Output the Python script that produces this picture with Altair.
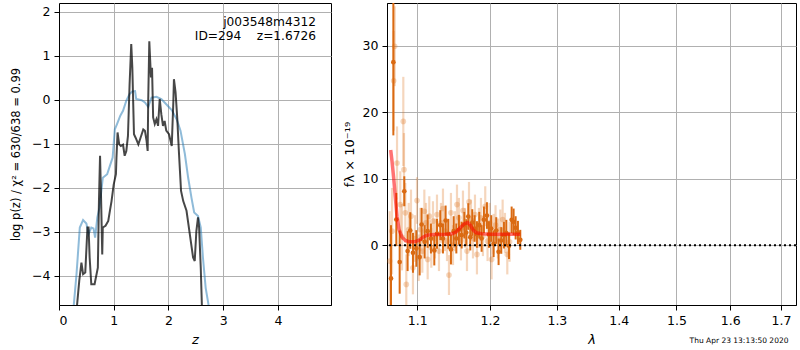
import altair as alt
import pandas as pd

# ---------------- left panel: log p(z) ----------------
z_blue = [0.25, 0.27, 0.32, 0.38, 0.44, 0.50, 0.54, 0.59, 0.63, 0.66, 0.70, 0.74, 0.80, 0.84,
          0.88, 0.93, 0.98, 1.02, 1.06, 1.12, 1.17, 1.23, 1.29, 1.34, 1.39, 1.41, 1.51, 1.57,
          1.63, 1.69, 1.78, 1.87, 1.96, 2.06, 2.15, 2.22, 2.30, 2.36, 2.42, 2.47, 2.54, 2.59,
          2.63, 2.68, 2.73, 2.78]
logp_blue = [-5.6, -4.66, -3.96, -2.90, -2.73, -2.81, -3.05, -2.90, -2.92, -3.13, -2.67, -2.45,
             -1.77, -1.73, -1.69, -1.50, -1.31, -0.67, -0.55, -0.36, -0.25, -0.02, 0.13, 0.19,
             0.20, 0.02, -0.01, -0.06, -0.16, 0.05, 0.07, 0.02, -0.10, -0.23, -0.44, -0.70,
             -1.23, -1.77, -2.22, -2.56, -2.64, -2.90, -3.58, -4.27, -4.64, -5.6]

z_dark = [0.32, 0.33, 0.37, 0.41, 0.44, 0.48, 0.52, 0.54, 0.56, 0.59, 0.65, 0.71, 0.73, 0.75,
          0.77, 0.79, 0.80, 0.85, 0.90, 0.93, 0.96, 1.00, 1.04, 1.05, 1.07, 1.10, 1.13, 1.17,
          1.20, 1.23, 1.26, 1.29, 1.32, 1.34, 1.37, 1.40, 1.45, 1.49, 1.54, 1.57, 1.60, 1.62,
          1.63, 1.65, 1.68, 1.70, 1.72, 1.75, 1.78, 1.81, 1.84, 1.87, 1.90, 1.93, 1.96, 2.01,
          2.06, 2.09, 2.10, 2.13, 2.16, 2.19, 2.23, 2.27, 2.33, 2.39, 2.45, 2.48, 2.51, 2.54,
          2.56, 2.59, 2.61, 2.63]
logp_dark = [-5.6, -4.66, -4.11, -3.70, -3.96, -3.92, -2.90, -2.90, -3.58, -4.19, -4.19, -3.81,
             -2.30, -1.27, -2.30, -3.51, -2.90, -2.86, -2.75, -2.52, -2.30, -1.92, -1.69, -1.31,
             -0.74, -1.01, -1.05, -1.02, -1.27, -1.16, -0.82, 0.36, 1.27, 0.73, -0.78, -0.86,
             -1.01, -0.86, -0.67, -0.70, -0.93, -1.16, -0.02, 1.33, 0.51, 0.73, -0.40, -0.55,
             -0.44, -0.59, 0.02, -0.33, -0.59, -0.48, -0.70, -0.78, -1.05, -0.02, 0.47, 0.17,
             -0.40, -1.16, -2.07, -2.30, -2.52, -3.05, -3.58, -3.66, -2.98, -2.67, -2.90, -3.81,
             -4.64, -5.6]

label_lines = ["j003548m4312", "ID=294\u00a0\u00a0\u00a0\u00a0z=1.6726"]
ytitle_left = "log p(z) / χ² = 630/638 = 0.99"

# ---------------- right panel: spectrum ----------------
dark_wave = [1.0659, 1.0689, 1.0727, 1.0770, 1.0830, 1.0873, 1.0908, 1.0943, 1.0987, 1.1031,
             1.1057, 1.1097, 1.1137, 1.1181, 1.1226, 1.1262, 1.1307, 1.1343, 1.1379, 1.1416,
             1.1452, 1.1489, 1.1526, 1.1562, 1.1600, 1.1637, 1.1664, 1.1692, 1.1720, 1.1748,
             1.1781, 1.1814, 1.1847, 1.1880, 1.1913, 1.1956, 1.1985, 1.2018, 1.2052, 1.2090,
             1.2124, 1.2163, 1.2202, 1.2237, 1.2276, 1.2315, 1.2344, 1.2374, 1.2408, 1.2443]
dark_flux = [-5.0, 27.5, 3.85, -2.55, 8.1, -0.9, 2.2, -1.15, -0.5, -1.8,
             3.1, 0.5, 2.1, 1.0, -0.8, 1.7, 3.0, 1.0, 3.7, 1.7,
             -0.65, 2.1, 1.0, 2.3, 1.5, 3.0, 1.9, 4.3, 1.2, 3.4,
             2.5, 1.6, 3.0, 1.0, 3.8, 4.45, 1.6, 2.5, 0.2, 2.2,
             -1.0, 0.7, 1.5, 1.8, -0.1, 3.8, 3.5, 2.6, 1.9, 0.8]
dark_err = [8.0, 11.0, 4.0, 4.75, 2.25, 3.0, 2.75, 3.0, 2.75, 2.75,
            2.5, 2.5, 2.5, 2.25, 2.25, 2.25, 2.25, 2.25, 2.25, 2.25,
            2.25, 2.25, 2.25, 2.25, 2.0, 2.0, 2.0, 2.0, 2.0, 2.0,
            2.0, 2.0, 2.0, 2.0, 2.0, 2.0, 2.0, 2.0, 2.0, 2.0,
            2.0, 2.0, 2.0, 2.0, 2.0, 2.0, 2.0, 1.75, 1.75, 1.5]

light_wave = [1.0642, 1.0672, 1.0693, 1.0706, 1.0736, 1.0778, 1.0800, 1.0817, 1.0826, 1.0843,
              1.0856, 1.0887, 1.0917, 1.0943, 1.0969, 1.0996, 1.1018, 1.1040, 1.1066, 1.1093,
              1.1115, 1.1137, 1.1159, 1.1186, 1.1208, 1.1235, 1.1262, 1.1289, 1.1316, 1.1343,
              1.1370, 1.1398, 1.1425, 1.1452, 1.1480, 1.1507, 1.1535, 1.1562, 1.1590, 1.1618,
              1.1646, 1.1674, 1.1702, 1.1730, 1.1758, 1.1786, 1.1814, 1.1842, 1.1871, 1.1899,
              1.1932, 1.1965, 1.1994, 1.2023, 1.2052, 1.2080, 1.2114, 1.2149, 1.2183, 1.2217,
              1.2251, 1.2285]
light_flux = [-2.4, 2.1, 24.7, 29.9, 12.35, 6.1, 1.2, 18.6, 11.35, 4.85,
              -5.9, 2.35, 4.35, -3.4, 1.0, 6.7, -1.9, 2.35, -0.9, 5.1,
              3.35, -2.15, 4.35, -0.4, 3.6, 1.0, 4.6, -0.9, 3.35, 5.5,
              2.1, 0.6, -4.5, 4.85, 0.0, 2.1, 6.1, 4.1, 0.7, 5.2,
              2.6, -0.9, 6.5, 3.85, 1.0, 4.6, -1.4, 2.6, 4.1, 1.35,
              5.85, 0.6, 3.35, -2.15, 1.7, 3.0, 1.0, 2.35, 3.85, 1.85,
              -1.4, 0.5]
light_err = [7.5, 6.5, 7.5, 6.0, 5.5, 5.0, 5.0, 6.7, 5.5, 4.5,
             4.5, 4.0, 4.0, 4.0, 3.5, 3.5, 3.5, 3.25, 3.25, 3.25,
             3.0, 3.0, 3.0, 3.0, 3.0, 3.0, 3.0, 3.0, 3.0, 3.0,
             3.0, 3.0, 3.0, 3.0, 3.0, 3.0, 3.0, 3.0, 3.0, 3.0,
             3.0, 3.0, 3.0, 3.0, 3.0, 3.0, 3.0, 3.0, 3.0, 3.0,
             3.0, 3.0, 3.0, 3.0, 3.0, 3.0, 3.0, 3.0, 3.0, 3.0,
             3.0, 3.0]

model_wave = [1.0655, 1.0672, 1.0693, 1.0715, 1.0736, 1.0762, 1.0800, 1.0843, 1.0900, 1.0961,
              1.1018, 1.1075, 1.1128, 1.1217, 1.1352, 1.1466, 1.1526, 1.1581, 1.1637, 1.1683,
              1.1720, 1.1758, 1.1805, 1.1885, 1.2004, 1.2149, 1.2295, 1.2443]
model_flux = [14.3, 12.6, 10.1, 7.1, 4.35, 2.35, 1.2, 0.7, 0.5, 0.5,
              0.7, 1.2, 1.5, 1.6, 1.6, 1.7, 2.0, 2.6, 3.2, 3.4,
              3.0, 2.3, 1.85, 1.7, 1.65, 1.65, 1.65, 1.65]

lam_ticks = [1.1, 1.2, 1.3, 1.4, 1.5, 1.6, 1.7]
flux_ticks = [0, 10, 20, 30]
timestamp = "Thu Apr 23 13:13:50 2020"

ORANGE = "#da6a12"
FONT = "DejaVu Sans"

# ---------------- build left ----------------
xz = alt.X("z:Q", scale=alt.Scale(domain=[0, 4.97], nice=False, zero=False),
           axis=alt.Axis(values=[0, 1, 2, 3, 4], title="z", titleFontStyle="italic", format="d",
                         titlePadding=7))
ylp = alt.Y("logp:Q", scale=alt.Scale(domain=[-4.66, 2.2], nice=False, zero=False),
            axis=alt.Axis(values=[-4, -3, -2, -1, 0, 1, 2], title=ytitle_left, format="d",
                          titlePadding=10, titleFontSize=11.5))

blue = alt.Chart(pd.DataFrame({"z": z_blue, "logp": logp_blue})).mark_line(
    color="#1f77b4", opacity=0.5, strokeWidth=2, clip=True).encode(x=xz, y=ylp)
dark = alt.Chart(pd.DataFrame({"z": z_dark, "logp": logp_dark})).mark_line(
    color="black", opacity=0.72, strokeWidth=2, clip=True).encode(x=xz, y=ylp)

t1 = alt.Chart(pd.DataFrame({"t": [label_lines[0]]})).mark_text(
    align="right", baseline="alphabetic", fontSize=12.2, font=FONT, color="black").encode(
    text="t:N", x=alt.value(257), y=alt.value(23))
t2 = alt.Chart(pd.DataFrame({"t": [label_lines[1]]})).mark_text(
    align="right", baseline="alphabetic", fontSize=12.2, font=FONT, color="black").encode(
    text="t:N", x=alt.value(257), y=alt.value(37))

left = alt.layer(blue, dark, t1, t2).properties(width=272, height=302)

# ---------------- build right ----------------
xs = alt.Scale(type="log", domain=[1.0608, 1.7309], nice=False)
ys = alt.Scale(domain=[-9.0, 36.4], nice=False, zero=False)
flux_axis = alt.Axis(values=flux_ticks, format="d", title="fλ × 10⁻¹⁹", titlePadding=6)
xl = alt.X("wave:Q", scale=xs, axis=alt.Axis(values=lam_ticks, format=".1f", title="λ",
                                             titleFontStyle="italic", titlePadding=7))
yl = alt.Y("flux:Q", scale=ys, axis=flux_axis)

light_df = pd.DataFrame({"wave": light_wave, "flux": light_flux, "err": light_err})
dark_df = pd.DataFrame({"wave": dark_wave, "flux": dark_flux, "err": dark_err})


def errbars(df, opacity, width):
    return alt.Chart(df).transform_calculate(
        lo="datum.flux - datum.err", hi="datum.flux + datum.err"
    ).mark_rule(color=ORANGE, opacity=opacity, strokeWidth=width, clip=True).encode(
        x=xl, y=alt.Y("lo:Q", scale=ys, axis=flux_axis), y2="hi:Q")


light_bars = errbars(light_df, 0.28, 2.2)
light_pts = alt.Chart(light_df).mark_circle(color=ORANGE, opacity=0.28, size=32, clip=True).encode(
    x=xl, y=yl)
dark_bars = errbars(dark_df, 1.0, 2)
dark_pts = alt.Chart(dark_df).mark_circle(color=ORANGE, opacity=1.0, size=22, clip=True).encode(
    x=xl, y=yl)
model = alt.Chart(pd.DataFrame({"wave": model_wave, "flux": model_flux})).mark_line(
    color="red", opacity=0.55, strokeWidth=3.5, clip=True).encode(x=xl, y=yl)
zero = alt.Chart(pd.DataFrame({"flux": [0]})).mark_rule(
    color="black", strokeDash=[2, 3], strokeWidth=2).encode(y=yl)
stamp = alt.Chart(pd.DataFrame({"t": [timestamp]})).mark_text(
    align="center", baseline="middle", fontSize=7.5, font=FONT, color="black").encode(
    text="t:N", x=alt.value(352), y=alt.value(338))

right = alt.layer(light_bars, light_pts, dark_bars, dark_pts, model, zero, stamp).properties(
    width=409, height=302)

chart = alt.hconcat(left, right, spacing=56, bounds="flush").properties(
    padding={"left": 10, "top": 2, "right": 1, "bottom": 2}
).configure_view(stroke="black", strokeWidth=1).configure_axis(
    grid=True, gridColor="#b0b0b0", gridWidth=1, domainColor="black", domainWidth=1,
    tickColor="black", tickSize=5, tickWidth=1, labelFontSize=12.5, labelFont=FONT,
    labelColor="black", labelPadding=4, titleFont=FONT, titleFontSize=13,
    titleFontWeight="normal", titleColor="black"
)

chart.save("out.html", embed_options={"renderer": "svg", "actions": False})
